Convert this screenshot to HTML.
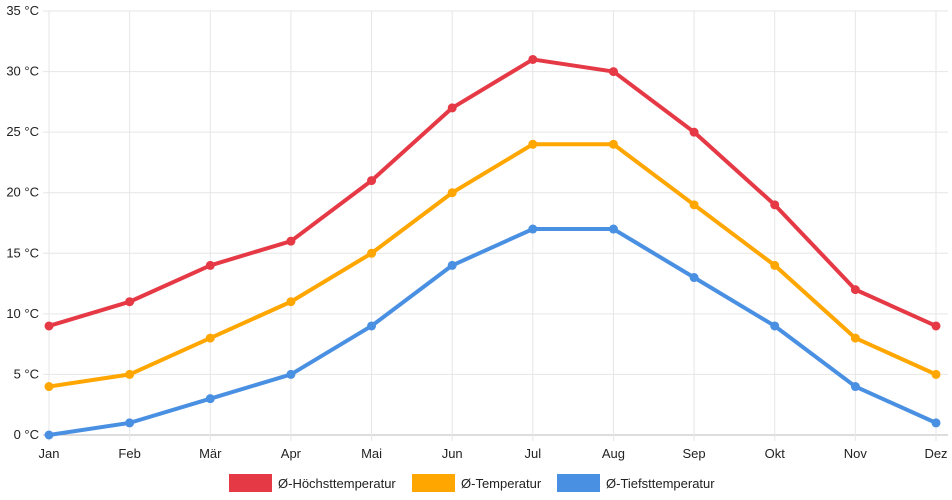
<!DOCTYPE html>
<html><head><meta charset="utf-8"><style>
body{margin:0;background:#fff;font-family:"Liberation Sans",sans-serif}
svg{display:block}
</style></head><body>
<svg id="c" width="952" height="500"></svg>
<script>
const months=["Jan","Feb","Mär","Apr","Mai","Jun","Jul","Aug","Sep","Okt","Nov","Dez"];
const highTemps=[9,11,14,16,21,27,31,30,25,19,12,9];
const avgTemps=[4,5,8,11,15,20,24,24,19,14,8,5];
const lowTemps=[0,1,3,5,9,14,17,17,13,9,4,1];
const yTicks=[0,5,10,15,20,25,30,35];
const seriesNames=["Ø-Höchsttemperatur","Ø-Temperatur","Ø-Tiefsttemperatur"];
const colors=["#e63946","#ffa600","#4a90e2"];
const svg=document.getElementById('c');const NS="http://www.w3.org/2000/svg";
const x0=49,x1=936,y0=435,y1=11;
const xs=i=>x0+i*(x1-x0)/(months.length-1);
const ys=v=>y0-(v-0)/(35-0)*(y0-y1);
function mk(t,a,p){const e=document.createElementNS(NS,t);for(const k in a)e.setAttribute(k,a[k]);(p||svg).appendChild(e);return e;}
yTicks.forEach(t=>{
 const l=mk('line',{x1:x0-6,x2:x1+12,y1:ys(t),y2:ys(t),stroke:t===0?'#bbb':'#e6e6e6','stroke-width':1});
 
 const tx=mk('text',{x:x0-10,y:ys(t)+4,'text-anchor':'end','font-size':13,fill:'#222'});tx.textContent=t+' °C';
 
});
months.forEach((m,i)=>{
 const l=mk('line',{x1:xs(i),x2:xs(i),y1:y1,y2:y0+6,stroke:'#e6e6e6','stroke-width':1});
 
 const tx=mk('text',{x:xs(i),y:458,'text-anchor':'middle','font-size':13,fill:'#222'});tx.textContent=m;
 
});
[highTemps,avgTemps,lowTemps].forEach((d,s)=>{
 const g=mk('g',{});
 
 const p=mk('polyline',{points:d.map((v,i)=>xs(i)+','+ys(v)).join(' '),fill:'none',stroke:colors[s],'stroke-width':4,'stroke-linejoin':'round'},g);
 
 d.forEach((v,i)=>{const c=mk('circle',{cx:xs(i),cy:ys(v),r:4.5,fill:colors[s]},g);
  });
});
const legX=[229,412,557];
seriesNames.forEach((n,s)=>{
 const g=mk('g',{});
 mk('rect',{x:legX[s],y:474,width:43,height:18,fill:colors[s]},g);
 const t=mk('text',{x:legX[s]+49,y:488,'font-size':13,fill:'#222'},g);t.textContent=n;
});
</script>
</body></html>
